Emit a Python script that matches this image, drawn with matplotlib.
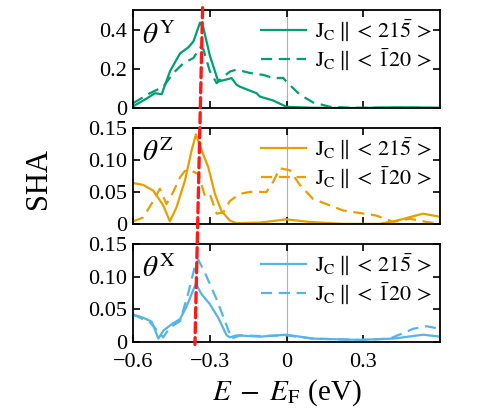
import matplotlib
matplotlib.use("Agg")
import matplotlib.pyplot as plt
from matplotlib.patches import ConnectionPatch

plt.rcParams['font.family'] = ['Liberation Serif', 'DejaVu Serif']
plt.rcParams['mathtext.fontset'] = 'stix'

# theta^Y panel (green)
ey_solid = [-0.6, -0.547, -0.514, -0.488, -0.455, -0.416, -0.384, -0.364, -0.338, -0.325,
            -0.30, -0.267, -0.24, -0.215, -0.195, -0.182, -0.117, -0.104, -0.052, 0.0,
            0.1, 0.2, 0.3, 0.4, 0.5, 0.6]
y_solid = [0.01, 0.05, 0.077, 0.072, 0.19, 0.28, 0.31, 0.34, 0.436, 0.41,
           0.27, 0.137, 0.145, 0.154, 0.12, 0.11, 0.077, 0.06, 0.04, 0.008,
           0.003, 0.002, 0.002, 0.005, 0.005, 0.003]
ey_dash = [-0.6, -0.534, -0.482, -0.442, -0.403, -0.364, -0.338, -0.325, -0.30, -0.273,
           -0.254, -0.22, -0.195, -0.143, -0.09, -0.052, -0.013, 0.0, 0.052, 0.104,
           0.17, 0.25, 0.4, 0.6]
y_dash = [0.026, 0.077, 0.11, 0.18, 0.23, 0.256, 0.31, 0.30, 0.19, 0.128,
          0.154, 0.188, 0.197, 0.18, 0.17, 0.154, 0.155, 0.135, 0.07, 0.03,
          0.008, 0.003, 0.003, 0.002]

# theta^Z panel (orange)
ez_solid = [-0.6, -0.56, -0.521, -0.482, -0.456, -0.43, -0.397, -0.371, -0.354, -0.332,
            -0.306, -0.28, -0.254, -0.221, -0.195, -0.104, 0.0, 0.091, 0.221, 0.364,
            0.43, 0.534, 0.6]
z_solid = [0.064, 0.061, 0.052, 0.029, 0.004, 0.026, 0.068, 0.115, 0.14, 0.115,
           0.089, 0.047, 0.02, 0.005, 0.001, 0.002, 0.007, 0.003, 0.0, 0.0,
           0.005, 0.016, 0.011]
ez_dash = [-0.6, -0.56, -0.521, -0.495, -0.469, -0.443, -0.416, -0.397, -0.371, -0.345,
           -0.319, -0.30, -0.273, -0.247, -0.221, -0.182, -0.143, -0.078, -0.052, -0.026,
           0.013, 0.052, 0.104, 0.221, 0.351, 0.417, 0.482, 0.547, 0.6]
z_dash = [0.004, 0.01, 0.036, 0.055, 0.031, 0.05, 0.073, 0.083, 0.083, 0.078,
          0.044, 0.047, 0.016, 0.018, 0.036, 0.047, 0.05, 0.05, 0.066, 0.087,
          0.084, 0.061, 0.039, 0.021, 0.013, 0.003, 0.008, 0.003, 0.0]

# theta^X panel (blue)
ex_solid = [-0.6, -0.56, -0.527, -0.501, -0.482, -0.449, -0.416, -0.39, -0.364, -0.354,
            -0.332, -0.30, -0.267, -0.234, -0.221, -0.195, -0.104, 0.0, 0.104, 0.286,
            0.417, 0.534, 0.6]
x_solid = [0.042, 0.037, 0.031, 0.005, 0.017, 0.027, 0.035, 0.055, 0.08, 0.089,
           0.073, 0.058, 0.037, 0.01, 0.007, 0.01, 0.008, 0.011, 0.005, 0.003,
           0.005, 0.011, 0.008]
ex_dash = [-0.6, -0.534, -0.482, -0.456, -0.416, -0.384, -0.358, -0.345, -0.319, -0.273,
           -0.234, -0.215, -0.182, -0.104, 0.0, 0.104, 0.286, 0.404, 0.495, 0.547, 0.6]
x_dash = [0.042, 0.03, 0.007, 0.022, 0.032, 0.075, 0.116, 0.126, 0.106, 0.065,
          0.025, 0.005, 0.01, 0.009, 0.01, 0.005, 0.003, 0.005, 0.02, 0.024, 0.02]

labels = [r'$\mathrm{J_C}\parallel<\,21\bar{5}\,>$', r'$\mathrm{J_C}\parallel<\,\bar{1}20\,>$']
red_top_e, red_bottom_e = -0.328, -0.358

fig = plt.figure(figsize=(4.83, 4.2), dpi=100)
pos = [(0.2754, 0.742, 0.6356, 0.234),
       (0.2754, 0.467, 0.6356, 0.228),
       (0.2754, 0.186, 0.6356, 0.233)]
axes = [fig.add_axes(p) for p in pos]

panels = [
    (ey_solid, y_solid, ey_dash, y_dash, '#009E73', r'$\theta^\mathrm{Y}$', 0.5, [0, 0.2, 0.4], ['0', '0.2', '0.4']),
    (ez_solid, z_solid, ez_dash, z_dash, '#E69F00', r'$\theta^\mathrm{Z}$', 0.15, [0, 0.05, 0.10, 0.15], ['0', '0.05', '0.10', '0.15']),
    (ex_solid, x_solid, ex_dash, x_dash, '#56B4E9', r'$\theta^\mathrm{X}$', 0.15, [0, 0.05, 0.10, 0.15], ['0', '0.05', '0.10', '0.15']),
]

for ax, (es, vs, ed, vd, col, th, ymax, yt, ytl) in zip(axes, panels):
    ax.axvline(0, color='#b0b0b0', lw=0.8, zorder=0)
    ax.plot(es, vs, color=col, lw=1.6, label=labels[0])
    ax.plot(ed, vd, color=col, lw=1.6, ls=(0, (5, 3)), label=labels[1])
    ax.set_xlim(-0.6, 0.6)
    ax.set_ylim(0, ymax)
    ax.set_xticks([-0.6, -0.3, 0, 0.3])
    ax.set_yticks(yt)
    ax.set_yticklabels(ytl)
    ax.tick_params(direction='in', top=True, right=True, length=5, width=1.2,
                   labelsize=16, pad=4)
    ax.tick_params(axis='x', pad=8)
    for s in ax.spines.values():
        s.set_linewidth(1.3)
    ax.text(0.03, 0.88, th, transform=ax.transAxes, fontsize=21, va='top', ha='left')
    ax.legend(loc='upper right', frameon=False, fontsize=16, handlelength=2.0,
              handletextpad=0.4, borderpad=0.15, borderaxespad=0.2, labelspacing=0.1)

for ax in axes[:2]:
    ax.tick_params(labelbottom=False)
axes[2].set_xticklabels(['\u22120.6', '\u22120.3', '0', '0.3'])
axes[2].set_xlabel(r'$E\;-\;E_\mathrm{F}$ (eV)', fontsize=21, labelpad=4)
fig.text(0.08, 0.575, 'SHA', rotation=90, fontsize=22, ha='center', va='center')

con = ConnectionPatch(xyA=(red_top_e, 0.512), coordsA=axes[0].transData,
                      xyB=(red_bottom_e, -0.004), coordsB=axes[2].transData,
                      color='#ff1a1a', lw=2.4, ls=(0, (3, 1.5)), zorder=10)
fig.add_artist(con)

fig.savefig('out.png', dpi=100)
